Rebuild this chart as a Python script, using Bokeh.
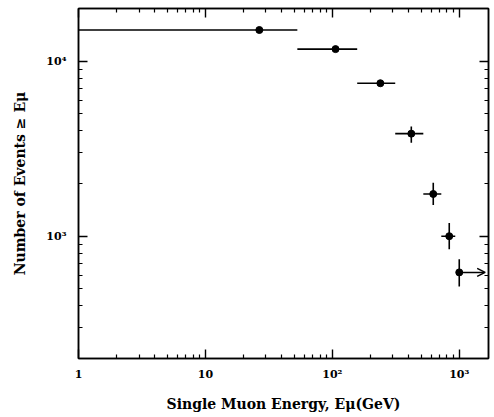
from bokeh.plotting import figure
from bokeh.models import FixedTicker, Arrow, OpenHead, ColumnDataSource, Range1d, LogAxis
from bokeh.embed import file_html
from bokeh.resources import INLINE

# ---- data ----
energy = [26.6, 106, 239, 419, 624, 834, 1000]            # GeV
events = [15070, 11720, 7480, 3855, 1742, 1000, 621]       # N(>= E)
energy_lo = [1.0, 53, 157, 313, 521, 722, 1000]
energy_hi = [53, 157, 313, 521, 722, 930, 1000]
events_lo = [15070, 11720, 7480, 3420, 1506, 841, 516]
events_hi = [15070, 11720, 7480, 4230, 2018, 1189, 738]
limit_energy_from = [1000]
limit_energy_to = [1600]
limit_events = [621]

x_tick_values = [1, 10, 100, 1000]
x_tick_labels = ["1", "10", "10²", "10³"]
y_tick_values = [1000, 10000]
y_tick_labels = ["10³", "10⁴"]

FONT = "DejaVu Serif"

def minor_ticks(decades):
    return [m * 10 ** k for k in decades for m in range(2, 10)]

x_minor = minor_ticks(range(0, 4))
y_minor = minor_ticks(range(2, 5))

src = ColumnDataSource(dict(x=energy, y=events, xl=energy_lo, xh=energy_hi,
                            yl=events_lo, yh=events_hi))

p = figure(width=494, height=417, x_axis_type="log", y_axis_type="log",
           x_range=Range1d(1, 1700), y_range=Range1d(200, 20000),
           output_backend="svg", toolbar_location=None,
           min_border_left=78, min_border_right=6, min_border_top=8,
           min_border_bottom=59)
p.background_fill_color = "white"
p.border_fill_color = "white"
p.outline_line_color = "black"
p.outline_line_width = 1.5
p.xgrid.visible = False
p.ygrid.visible = False

def style_axis(ax, ticks, minors, overrides=None, show_labels=True):
    ax.ticker = FixedTicker(ticks=ticks, minor_ticks=minors)
    ax.axis_line_color = "black"
    ax.axis_line_width = 1.5
    ax.major_tick_in = 9
    ax.major_tick_out = 0
    ax.minor_tick_in = 4
    ax.minor_tick_out = 0
    ax.major_tick_line_width = 1.4
    ax.minor_tick_line_width = 1.2
    ax.major_tick_line_color = "black"
    ax.minor_tick_line_color = "black"
    if show_labels:
        ax.major_label_text_font = FONT
        ax.major_label_text_font_style = "bold"
        ax.major_label_text_font_size = "11px"
        ax.major_label_text_color = "black"
        if overrides:
            ax.major_label_overrides = overrides
    else:
        ax.major_label_text_font_size = "1px"
        ax.major_label_text_color = None
        ax.major_label_standoff = 0

style_axis(p.xaxis[0], x_tick_values, x_minor, dict(zip(x_tick_values, x_tick_labels)))
style_axis(p.yaxis[0], y_tick_values, y_minor, dict(zip(y_tick_values, y_tick_labels)))
p.xaxis[0].major_label_standoff = 9
p.yaxis[0].major_label_standoff = 12
p.yaxis[0].major_label_orientation = "horizontal"

for ax in (p.xaxis[0], p.yaxis[0]):
    ax.axis_label_text_font = FONT
    ax.axis_label_text_font_style = "bold"
    ax.axis_label_text_font_size = "14px"
    ax.axis_label_text_color = "black"
p.xaxis[0].axis_label = "Single Muon Energy, Eμ(GeV)"
p.xaxis[0].axis_label_standoff = 12
p.yaxis[0].axis_label = "Number of Events ≥ Eμ"
p.yaxis[0].axis_label_standoff = 15

top = LogAxis()
right = LogAxis()
style_axis(top, x_tick_values, x_minor, show_labels=False)
style_axis(right, y_tick_values, y_minor, show_labels=False)
p.add_layout(top, "above")
p.add_layout(right, "right")

# error bars
p.segment(x0="xl", y0="y", x1="xh", y1="y", source=src, line_color="black", line_width=1.6)
p.segment(x0="x", y0="yl", x1="x", y1="yh", source=src, line_color="black", line_width=1.6)
p.scatter(x="x", y="y", source=src, size=7, marker="circle", fill_color="black", line_color="black")

# lower-limit arrow on the last point
p.add_layout(Arrow(end=OpenHead(size=8, line_width=1.5, line_color="black"),
                   x_start=limit_energy_from[0], y_start=limit_events[0],
                   x_end=limit_energy_to[0], y_end=limit_events[0],
                   line_width=1.5, line_color="black"))

open("out.html", "w").write(file_html(p, INLINE))
